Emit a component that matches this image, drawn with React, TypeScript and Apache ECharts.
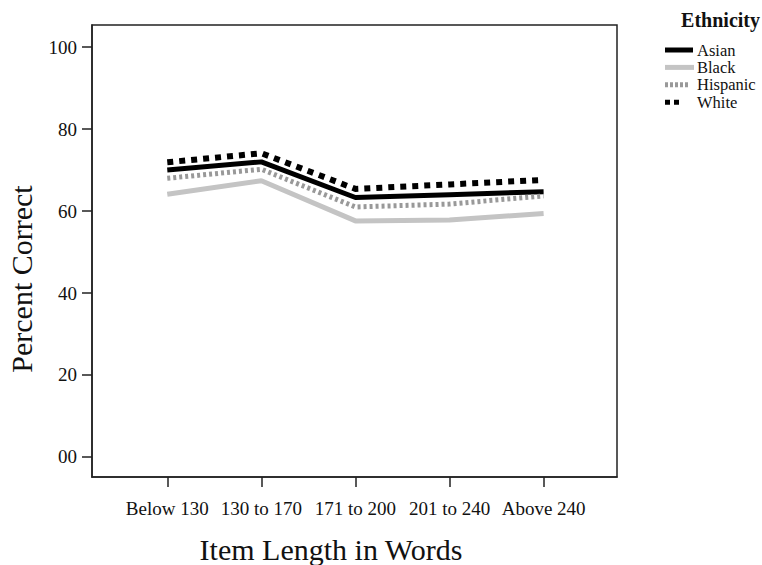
import React, { useEffect, useRef } from "react";
import * as echarts from "echarts";

const categories = ["Below 130", "130 to 170", "171 to 200", "201 to 240", "Above 240"];
const seriesNames = ["Asian", "Black", "Hispanic", "White"];
const asian = [70, 72, 63.3, 64, 64.7];
const black = [64.1, 67.4, 57.6, 57.8, 59.4];
const hispanic = [68, 70.2, 61, 61.7, 63.7];
const white = [71.9, 74.1, 65.4, 66.5, 67.6];
const yTicks = [0, 20, 40, 60, 80, 100];
const xTicks = [1, 2, 3, 4, 5];

const FONT = "'Liberation Serif', 'Times New Roman', serif";

const toPoints = (arr: number[]) => arr.map((v, i) => [i + 1, v]);

const styles = [
  { color: "#000", width: 5, dash: null as number[] | null, legendLen: 28 },
  { color: "#c4c4c4", width: 5, dash: null as number[] | null, legendLen: 29 },
  { color: "#999", width: 5, dash: [3, 3] as number[] | null, legendLen: 23 },
  { color: "#000", width: 6, dash: [6, 6] as number[] | null, legendLen: 17 },
];

export default function App() {
  const ref = useRef<HTMLDivElement>(null);
  useEffect(() => {
    if (!ref.current) return;
    const chart = echarts.init(ref.current, null, { renderer: "svg" });
    const axisColor = "#222";
    const dataSets = [asian, black, hispanic, white];

    const legendGraphics: any[] = [];
    seriesNames.forEach((name, i) => {
      const y = 50 + i * 17.4;
      const s = styles[i];
      legendGraphics.push({
        type: "line",
        shape: { x1: 665, y1: y, x2: 665 + s.legendLen, y2: y },
        style: {
          stroke: s.color,
          lineWidth: i === 3 ? 5 : s.width,
          lineDash: i === 3 ? [5, 4] : i === 2 ? [3, 2] : null,
        },
      });
      legendGraphics.push({
        type: "text",
        x: 697,
        y: y,
        style: {
          text: name,
          font: `16.5px ${FONT}`,
          fill: "#111",
          verticalAlign: "middle",
        },
      });
    });

    chart.setOption({
      animation: false,
      backgroundColor: "#fff",
      textStyle: { fontFamily: FONT },
      grid: {
        left: 92,
        top: 25,
        right: 145,
        bottom: 88,
        show: true,
        borderColor: axisColor,
        borderWidth: 1.5,
        backgroundColor: "transparent",
      },
      xAxis: {
        type: "value",
        min: 0.2,
        max: 5.78,
        splitLine: { show: false },
        axisLine: { show: true, onZero: false, lineStyle: { color: axisColor, width: 1.5 } },
        axisTick: {
          show: true,
          customValues: xTicks,
          length: 10,
          lineStyle: { color: axisColor, width: 1.5 },
        },
        axisLabel: {
          customValues: xTicks,
          margin: 22,
          color: "#111",
          fontSize: 19,
          fontFamily: FONT,
          formatter: (v: number) => categories[Math.round(v) - 1] ?? "",
        },
      },
      yAxis: {
        type: "value",
        min: -4.9,
        max: 105.4,
        splitLine: { show: false },
        axisLine: { show: true, onZero: false, lineStyle: { color: axisColor, width: 1.5 } },
        axisTick: {
          show: true,
          customValues: yTicks,
          length: 10,
          lineStyle: { color: axisColor, width: 1.5 },
        },
        axisLabel: {
          customValues: yTicks,
          margin: 15,
          color: "#111",
          fontSize: 19,
          fontFamily: FONT,
          formatter: (v: number) => (v === 0 ? "00" : String(v)),
        },
      },
      graphic: [
        {
          type: "text",
          x: 760,
          y: 20,
          style: {
            text: "Ethnicity",
            font: `bold 20px ${FONT}`,
            fill: "#111",
            align: "right",
            verticalAlign: "middle",
          },
        },
        ...legendGraphics,
        {
          type: "text",
          x: 6,
          y: 279,
          rotation: Math.PI / 2,
          style: {
            text: "Percent Correct",
            font: `30px ${FONT}`,
            fill: "#111",
            align: "center",
            verticalAlign: "top",
          },
        },
        {
          type: "text",
          x: 331,
          y: 549,
          style: {
            text: "Item Length in Words",
            font: `30px ${FONT}`,
            fill: "#111",
            align: "center",
            verticalAlign: "middle",
          },
        },
      ],
      series: seriesNames.map((name, i) => ({
        name,
        type: "line",
        data: toPoints(dataSets[i]),
        symbol: "none",
        color: styles[i].color,
        lineStyle: {
          color: styles[i].color,
          width: styles[i].width,
          type: styles[i].dash ?? "solid",
        },
      })),
    });
    return () => chart.dispose();
  }, []);
  return (
    <div
      ref={ref}
      style={{ position: "fixed", left: 0, top: 0, width: 762, height: 565 }}
    />
  );
}
